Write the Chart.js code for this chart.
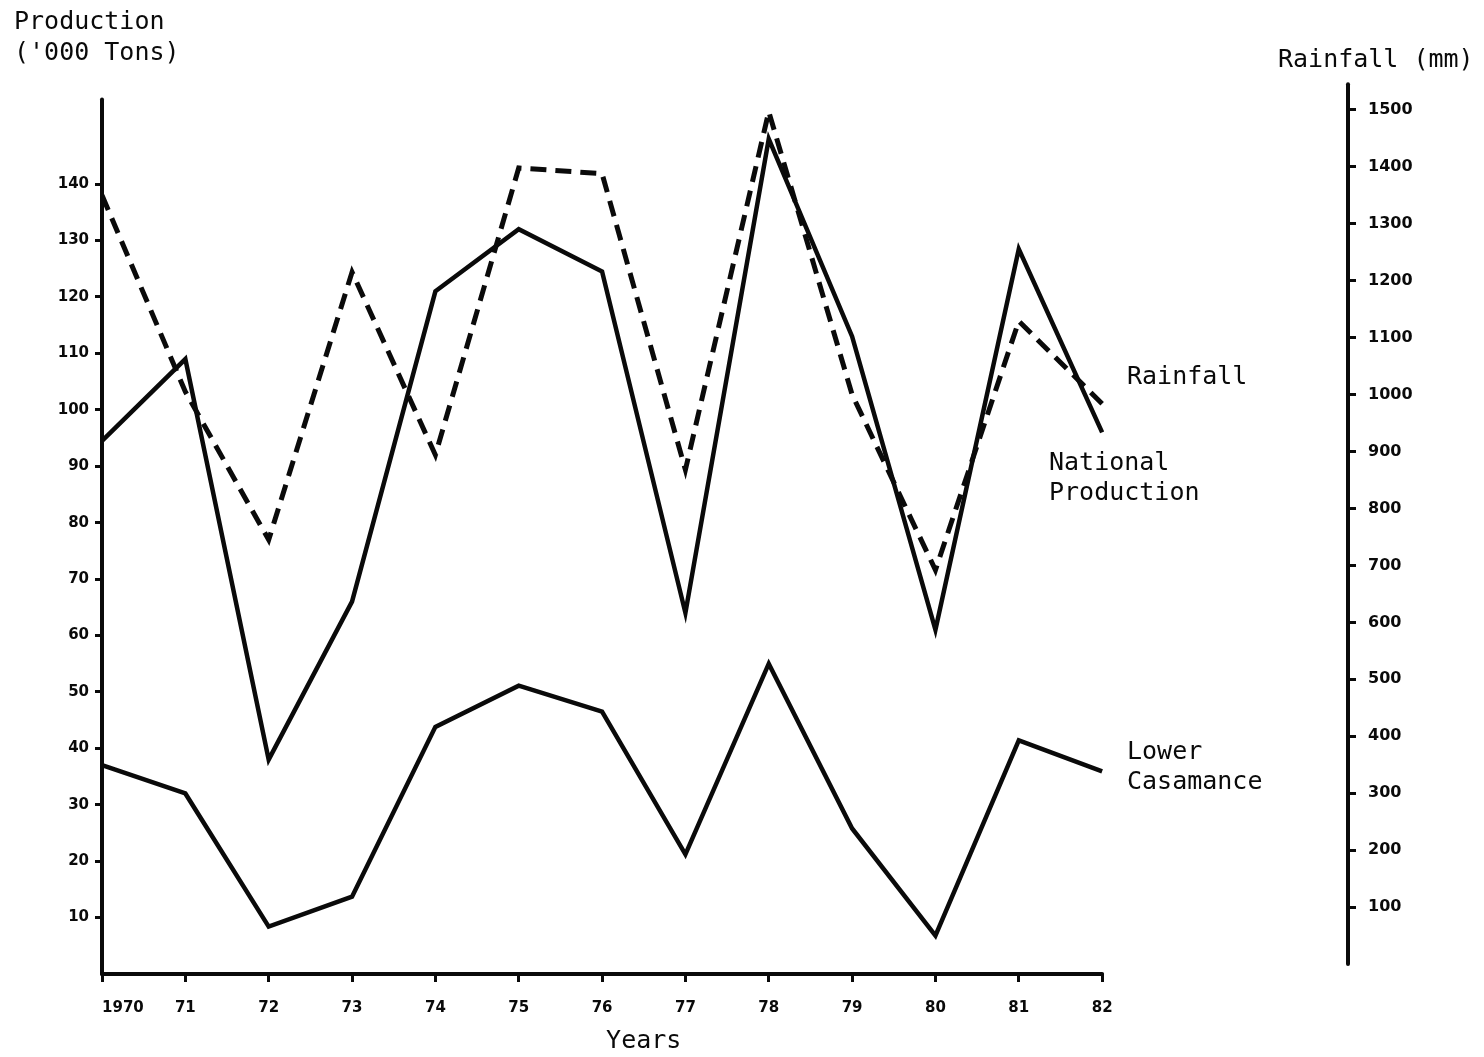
<!DOCTYPE html>
<html>
<head>
<meta charset="utf-8">
<script src="https://cdn.jsdelivr.net/npm/chart.js@4/dist/chart.umd.min.js"></script>
<style>
  html, body { margin: 0; padding: 0; background: #fff; }
  #wrap { width: 1484px; height: 1057px; }
</style>
</head>
<body>
<div id="wrap"><canvas id="c" width="1484" height="1057"></canvas></div>
<script>
// ---- Data ----
const years = [1970, 1971, 1972, 1973, 1974, 1975, 1976, 1977, 1978, 1979, 1980, 1981, 1982];
const yearLabels = ['1970', '71', '72', '73', '74', '75', '76', '77', '78', '79', '80', '81', '82'];
const nationalProduction = [94.5, 109, 38, 66, 121, 132, 124.5, 64, 148, 113, 61, 128.5, 96];
const lowerCasamance = [37, 32, 8.4, 13.7, 43.8, 51.1, 46.5, 21.2, 55, 25.8, 6.8, 41.4, 35.9];
const rainfall = [1350, 1005, 745, 1215, 894, 1398, 1388, 868, 1497, 1000, 692, 1129, 984];
const productionTicks = [10, 20, 30, 40, 50, 60, 70, 80, 90, 100, 110, 120, 130, 140];
const rainfallTicks = [100, 200, 300, 400, 500, 600, 700, 800, 900, 1000, 1100, 1200, 1300, 1400, 1500];

const toPoints = (vals) => years.map((yr, i) => ({ x: yr, y: vals[i] }));

const INK = '#0a0a0a';
const MONO = '"DejaVu Sans Mono", monospace';
const TICKFONT = { family: '"DejaVu Sans", sans-serif', weight: 'bold', size: 15 };

const axisLines = {
  id: 'axisLines',
  afterDatasetsDraw(chart) {
    const { ctx, chartArea } = chart;
    const { x, y, y2 } = chart.scales;
    ctx.save();
    ctx.strokeStyle = INK;
    ctx.lineWidth = 4;
    ctx.lineCap = 'round';
    ctx.beginPath();
    ctx.moveTo(chartArea.left, y.getPixelForValue(0));
    ctx.lineTo(chartArea.left, y.getPixelForValue(155));
    ctx.stroke();
    ctx.beginPath();
    ctx.moveTo(x.getPixelForValue(years[0]), y.getPixelForValue(0));
    ctx.lineTo(x.getPixelForValue(years[years.length - 1]), y.getPixelForValue(0));
    ctx.stroke();
    ctx.beginPath();
    ctx.moveTo(chartArea.right, y2.getPixelForValue(0));
    ctx.lineTo(chartArea.right, y2.getPixelForValue(1545));
    ctx.stroke();
    ctx.restore();
  }
};

const textLabels = {
  id: 'textLabels',
  afterDraw(chart) {
    const { ctx } = chart;
    const { x } = chart.scales;
    ctx.save();
    ctx.fillStyle = INK;
    ctx.font = '25px ' + MONO;
    ctx.textBaseline = 'middle';
    ctx.textAlign = 'left';
    ctx.fillText('Production', 14, 22);
    ctx.fillText("('000 Tons)", 14, 53);
    ctx.fillText('Rainfall (mm)', 1278, 60);
    ctx.fillText('Rainfall', 1127, 377);
    ctx.fillText('National', 1049, 463);
    ctx.fillText('Production', 1049, 493);
    ctx.fillText('Lower', 1127, 752);
    ctx.fillText('Casamance', 1127, 782);
    ctx.textAlign = 'center';
    ctx.fillText('Years', x.getPixelForValue(1976.5), 1041);
    ctx.restore();
  }
};

new Chart(document.getElementById('c'), {
  type: 'line',
  data: {
    datasets: [
      {
        label: 'Rainfall',
        data: toPoints(rainfall),
        yAxisID: 'y2',
        borderColor: INK,
        borderWidth: 5,
        borderDash: [16, 9],
        pointRadius: 0,
        fill: false,
        tension: 0
      },
      {
        label: 'National Production',
        data: toPoints(nationalProduction),
        yAxisID: 'y',
        borderColor: INK,
        borderWidth: 4.5,
        pointRadius: 0,
        fill: false,
        tension: 0
      },
      {
        label: 'Lower Casamance',
        data: toPoints(lowerCasamance),
        yAxisID: 'y',
        borderColor: INK,
        borderWidth: 4.5,
        pointRadius: 0,
        fill: false,
        tension: 0
      }
    ]
  },
  options: {
    responsive: false,
    animation: false,
    layout: { padding: { top: 82, left: 0, right: 0, bottom: 0 } },
    plugins: {
      legend: { display: false },
      tooltip: { enabled: false },
      title: { display: false }
    },
    scales: {
      x: {
        type: 'linear',
        min: 1970,
        max: 1984.95,
        afterBuildTicks(scale) { scale.ticks = years.map(v => ({ value: v })); },
        afterFit(scale) { scale.height = 83; },
        border: { display: false },
        grid: { drawOnChartArea: false, drawTicks: true, tickLength: 8, lineWidth: 3, color: INK },
        ticks: {
          color: INK,
          font: TICKFONT,
          padding: 17,
          maxRotation: 0,
          autoSkip: false,
          callback: (v) => {
            const i = years.indexOf(v);
            return i === 0 ? '\u00a0\u00a0\u00a0\u00a0\u00a0\u00a0\u00a0\u00a0' + yearLabels[i] : yearLabels[i];
          }
        }
      },
      y: {
        type: 'linear',
        position: 'left',
        min: 0,
        max: 158.1,
        afterBuildTicks(scale) { scale.ticks = productionTicks.map(v => ({ value: v })); },
        afterFit(scale) { scale.width = 102; },
        border: { display: false },
        grid: { drawOnChartArea: false, drawTicks: true, tickLength: 7, lineWidth: 3, color: INK },
        ticks: { color: INK, font: TICKFONT, padding: 6, callback: (v) => String(v) }
      },
      y2: {
        type: 'linear',
        position: 'right',
        min: -17.6,
        max: 1549,
        afterBuildTicks(scale) { scale.ticks = rainfallTicks.map(v => ({ value: v })); },
        afterFit(scale) { scale.width = 136; },
        border: { display: false },
        grid: { drawOnChartArea: false, drawTicks: true, tickLength: 8, lineWidth: 3, color: INK },
        ticks: { color: INK, font: { family: '"DejaVu Sans", sans-serif', weight: 'bold', size: 16 }, padding: 12, callback: (v) => String(v) }
      }
    }
  },
  plugins: [axisLines, textLabels]
});
</script>
</body>
</html>
